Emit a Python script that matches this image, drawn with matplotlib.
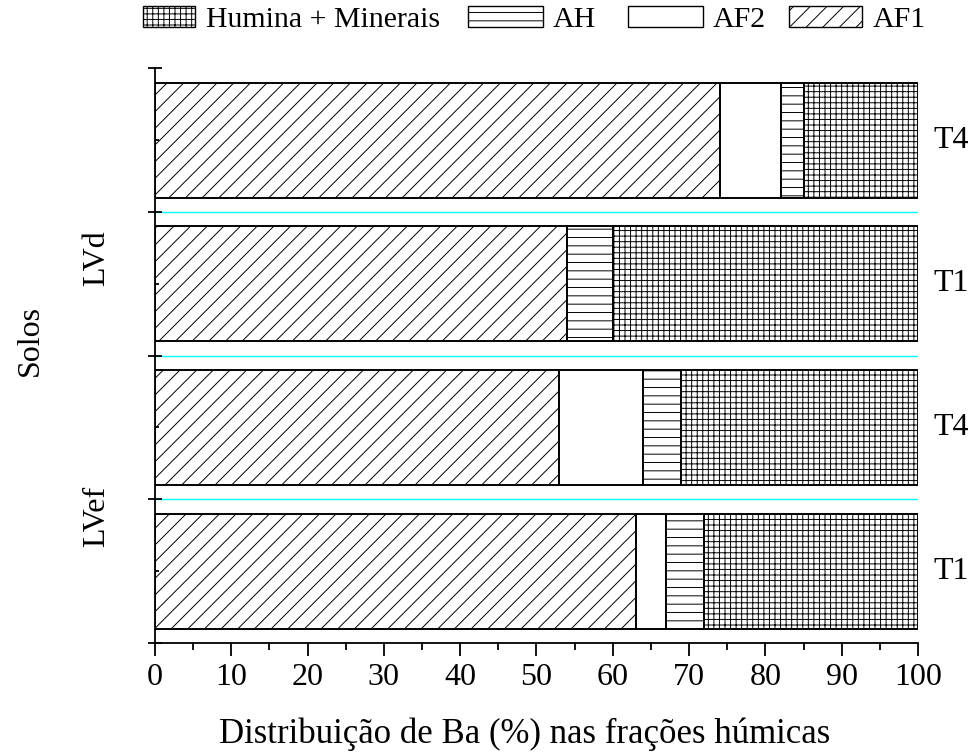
import numpy as np
import matplotlib
matplotlib.use("Agg")
import matplotlib.pyplot as plt
from matplotlib.patches import Patch

plt.rcParams['font.family'] = ['Liberation Serif', 'DejaVu Serif']
plt.rcParams['hatch.linewidth'] = 0.7
plt.rcParams['font.size'] = 22

# bottom to top
solos = ['LVef', 'LVef', 'LVd', 'LVd']
tratamentos = ['T1', 'T4', 'T1', 'T4']
af1 = [63, 53, 54, 74]
af2 = [4, 11, 0, 8]
ah = [5, 5, 6, 3]
humina = [28, 31, 40, 15]

fig = plt.figure(figsize=(9.75, 7.53), dpi=100)
ax = fig.add_axes([0.159, 0.146, 0.7825, 0.7635])

y = np.arange(len(tratamentos)) + 0.5
h = 0.8
left = np.zeros(len(y))
series = [(af1, '//', 'AF1'), (af2, '', 'AF2'), (ah, '--', 'AH'), (humina, '+++', 'Humina + Minerais')]
for vals, hatch, lab in series:
    ax.barh(y, vals, height=h, left=left, color='white', edgecolor='black',
            linewidth=1.4, hatch=hatch, label=lab)
    left = left + np.array(vals)

for yy in [1, 2, 3]:
    ax.axhline(yy, color='cyan', lw=1.0, zorder=0)

ax.set_xlim(0, 100)
ax.set_ylim(0, 4)
ax.set_xticks(np.arange(0, 101, 10))
ax.set_xticks(np.arange(5, 100, 10), minor=True)
ax.set_yticks([0, 1, 2, 3, 4])
ax.set_yticks(y, minor=True)
ax.set_yticklabels([])
ax.tick_params(axis='x', which='major', direction='out', length=9, width=1.3, labelsize=23, pad=5)
ax.tick_params(axis='x', which='minor', direction='out', length=5, width=1.3)
ax.tick_params(axis='y', which='major', direction='inout', length=10, width=1.3)
ax.tick_params(axis='y', which='minor', direction='in', length=3, width=1.3)
for s in ['top', 'right']:
    ax.spines[s].set_visible(False)
for s in ['left', 'bottom']:
    ax.spines[s].set_linewidth(1.3)

for yy, t in zip(y, tratamentos):
    ax.text(1.02, yy, t, transform=ax.get_yaxis_transform(), ha='left', va='center',
            fontsize=23, clip_on=False)

ax.text(-0.076, 2.68, 'LVd', transform=ax.get_yaxis_transform(), rotation=90,
        ha='center', va='center', fontsize=23)
ax.text(-0.076, 0.88, 'LVef', transform=ax.get_yaxis_transform(), rotation=90,
        ha='center', va='center', fontsize=23)
ax.text(-0.164, 0.527, 'Solos', transform=ax.transAxes, rotation=90,
        ha='center', va='center', fontsize=23)

ax.set_xlabel('Distribuição de Ba (%) nas frações húmicas', fontsize=25)
ax.xaxis.set_label_coords(0.484, -0.129)

# legend entries placed one by one (Humina handle is narrower in the original)
leg_x = [143, 468, 628, 789]
leg_len = [1.75, 2.5, 2.5, 2.45]
for (vals, hp, lab), x0, hl in zip(series[::-1], leg_x, leg_len):
    hdl = Patch(facecolor='white', edgecolor='black', hatch=hp, label=lab, linewidth=1.0)
    fig.legend(handles=[hdl], loc='upper left', bbox_to_anchor=(x0 / 975, 0.992),
               frameon=False, fontsize=21.5, handlelength=hl, handleheight=0.7,
               handletextpad=0.35, borderpad=0, borderaxespad=0)

fig.savefig('out.png', dpi=100)
